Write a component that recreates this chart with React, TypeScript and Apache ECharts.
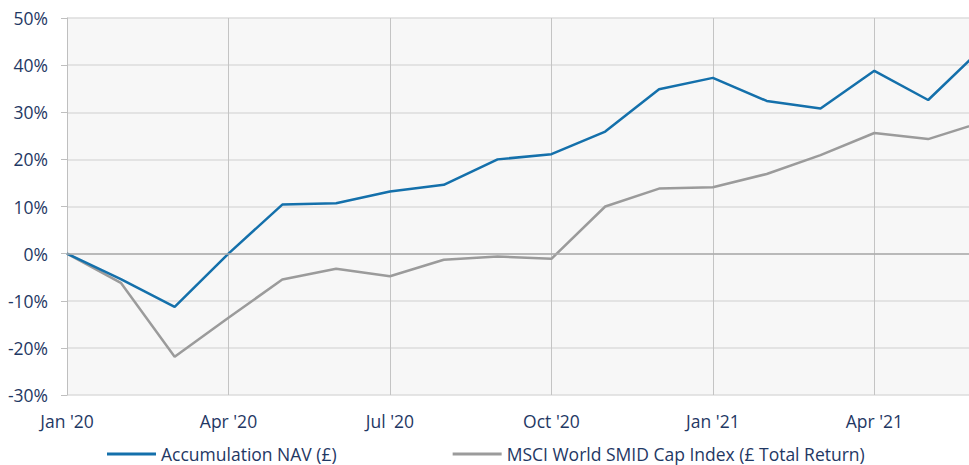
import React, { useEffect, useRef } from "react";
import * as echarts from "echarts";

const months = [
  "Jan '20", "Feb '20", "Mar '20", "Apr '20", "May '20", "Jun '20",
  "Jul '20", "Aug '20", "Sep '20", "Oct '20", "Nov '20", "Dec '20",
  "Jan '21", "Feb '21", "Mar '21", "Apr '21", "May '21", "Jun '21",
];
const navSeries = [
  0, -5.4, -11.3, 0, 10.4, 10.7, 13.2, 14.6, 20.0, 21.1, 25.9, 34.9,
  37.3, 32.4, 30.8, 38.8, 32.6, 43.6,
];
const msciSeries = [
  0, -6.2, -21.9, -13.6, -5.5, -3.2, -4.8, -1.3, -0.6, -1.1, 10.0, 13.8,
  14.1, 16.9, 20.9, 25.6, 24.3, 27.9,
];
const seriesNames = ["Accumulation NAV (£)", "MSCI World SMID Cap Index (£ Total Return)"];

const TEXT = "#1f3864";
const FONT = "'Open Sans', sans-serif";

export default function App() {
  const ref = useRef<HTMLDivElement>(null);
  useEffect(() => {
    if (!ref.current) return;
    const chart = echarts.init(ref.current, undefined, { renderer: "svg" });
    chart.setOption({
      animation: false,
      textStyle: { fontFamily: FONT },
      grid: {
        left: 67, right: 0, top: 18, bottom: 70,
        show: true, backgroundColor: "#f7f7f7", borderWidth: 0,
      },
      legend: {
        left: 107, top: 445, padding: 0, itemWidth: 49, itemHeight: 3, itemGap: 116,
        icon: "rect",
        textStyle: { color: TEXT, fontSize: 17.5, fontFamily: FONT, lineHeight: 18 },
        data: seriesNames,
      },
      xAxis: {
        type: "category",
        data: months,
        boundaryGap: false,
        axisLine: { show: false },
        axisTick: { show: false },
        axisLabel: {
          interval: 2, color: TEXT, fontSize: 17.5, fontFamily: FONT, margin: 17,
          formatter: (v: string, i: number) => (i % 3 === 0 ? v : ""),
        },
        splitLine: { show: true, interval: 2, lineStyle: { color: "#c4c4c4", width: 1 } },
      },
      yAxis: {
        type: "value",
        min: -30, max: 50, interval: 10,
        axisLine: { show: true, lineStyle: { color: "#bfbfbf", width: 1 } },
        axisTick: { show: true, length: 6, lineStyle: { color: "#bfbfbf" } },
        axisLabel: {
          color: TEXT, fontSize: 17.5, fontFamily: FONT, margin: 19,
          formatter: (v: number) => `${v}%`,
        },
        splitLine: { show: true, lineStyle: { color: "#dcdcdc", width: 1.5 } },
      },
      series: [
        {
          name: seriesNames[0], type: "line", data: navSeries, showSymbol: false,
          symbol: "none", z: 3,
          lineStyle: { color: "#1470ab", width: 2.5 }, itemStyle: { color: "#1470ab" },
          markLine: {
            silent: true, symbol: "none", label: { show: false },
            lineStyle: { color: "#ababab", width: 1.5, type: "solid" },
            data: [{ yAxis: 0 }],
          },
        },
        {
          name: seriesNames[1], type: "line", data: msciSeries, showSymbol: false,
          symbol: "none", z: 2,
          lineStyle: { color: "#9b9b9b", width: 2.5 }, itemStyle: { color: "#9b9b9b" },
        },
      ],
    });
    return () => chart.dispose();
  }, []);
  return (
    <div style={{ position: "fixed", left: 0, top: 0, width: 969, height: 465, overflow: "hidden", background: "#fff" }}>
      <div ref={ref} style={{ width: 982, height: 465 }} />
    </div>
  );
}
